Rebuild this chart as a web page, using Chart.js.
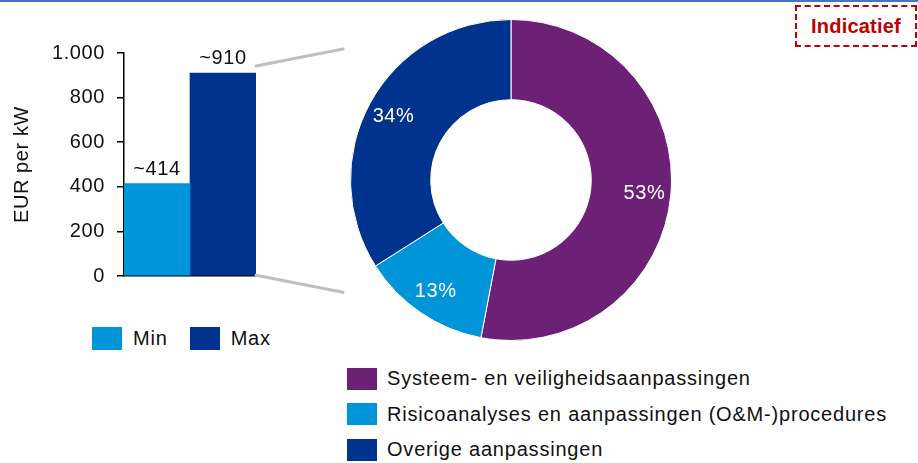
<!DOCTYPE html>
<html>
<head>
<meta charset="utf-8">
<script src="https://cdn.jsdelivr.net/npm/chart.js@4.4.1/dist/chart.umd.min.js"></script>
<style>
    body { margin: 0; width: 918px; height: 463px; position: relative; overflow: hidden; background: #fff;
           font-family: "Liberation Sans", Arial, sans-serif; color: #111; }
    #topLine { position: absolute; left: 0; top: 0; width: 918px; height: 2px; background: #4472C4; }
    #barChart { position: absolute; left: 0; top: 0; }
    #pieChart { position: absolute; left: 346px; top: 15px; }
    .legend { position: absolute; font-size: 20px; letter-spacing: 0.8px; }
    .legend .item { display: flex; align-items: center; }
    .legend .box { width: 30px; height: 23px; margin-right: 11px; flex: none; }
    #barLegend { left: 92px; top: 327px; display: flex; }
    #barLegend .item { margin-right: 22px; }
    #pieLegend { left: 347px; top: 367px; }
    #pieLegend .item { height: 23px; margin-bottom: 12.5px; }
    #pieLegend .box { margin-right: 10px; height: 22px; }
    #stamp { position: absolute; left: 795px; top: 5px; width: 118px; height: 38px; border: 2.5px dashed #C00000;
             color: #C00000; font-weight: bold; font-size: 20px; letter-spacing: 0.2px; display: flex; align-items: center; justify-content: center; }
</style>
</head>
<body>
<div id="topLine"></div>
<canvas id="barChart" width="350" height="300"></canvas>
<canvas id="pieChart" width="330" height="330"></canvas>
<div id="barLegend" class="legend"></div>
<div id="pieLegend" class="legend"></div>
<div id="stamp">Indicatief</div>

<script>
// Gegevens
const barSeries = ['Min', 'Max'];
const barValues = [414, 910];
const barColors = ['#0094D9', '#00338D'];
const yTicks = [0, 200, 400, 600, 800, 1000];

const pieLabels = ['Systeem- en veiligheidsaanpassingen', 'Risicoanalyses en aanpassingen (O&M-)procedures', 'Overige aanpassingen'];
const pieValues = [53, 13, 34];
const pieColors = ['#6C2177', '#0094D9', '#00338D'];

const font = 'Liberation Sans, Arial, sans-serif';
const fmt = v => String(v).replace(/\B(?=(\d{3})+(?!\d))/g, '.');

// iets bredere letters, zoals in het origineel
const spacing = {
    id: 'spacing',
    beforeDraw(chart) { chart.ctx.letterSpacing = '0.6px'; }
};

// Labels boven de staven + verbindingslijnen naar de donut
const barLabels = {
    id: 'barLabels',
    afterDatasetsDraw(chart) {
        const ctx = chart.ctx;
        ctx.save();
        ctx.font = '20px ' + font;
        ctx.fillStyle = '#111';
        ctx.textAlign = 'center';
        ctx.textBaseline = 'alphabetic';
        chart.data.datasets.forEach((ds, i) => {
            chart.getDatasetMeta(i).data.forEach((bar, j) => {
                ctx.fillText('~' + ds.data[j], bar.x, bar.y - 9);
            });
        });
        const last = chart.getDatasetMeta(chart.data.datasets.length - 1).data[0];
        const x0 = last.x + last.width / 2;
        ctx.strokeStyle = '#BFBFBF';
        ctx.lineWidth = 3;
        ctx.lineCap = 'round';
        ctx.beginPath();
        ctx.moveTo(x0, last.y - 7);
        ctx.lineTo(x0 + 87, last.y - 24);
        ctx.moveTo(x0, last.base);
        ctx.lineTo(x0 + 87, last.base + 17);
        ctx.stroke();
        ctx.restore();
    }
};

const barChart = new Chart(document.getElementById('barChart'), {
    type: 'bar',
    data: {
        labels: [''],
        datasets: barSeries.map((s, i) => ({
            label: s,
            data: [barValues[i]],
            backgroundColor: barColors[i],
            categoryPercentage: 1,
            barPercentage: 1
        }))
    },
    options: {
        responsive: false,
        animation: false,
        layout: { padding: { top: 53, bottom: 24, left: 0, right: 94 } },
        plugins: { legend: { display: false }, tooltip: { enabled: false } },
        scales: {
            x: {
                grid: { display: false },
                ticks: { display: false },
                border: { color: '#000', width: 1.5 },
                afterFit: s => { s.height = 0; }
            },
            y: {
                min: 0,
                max: 1000,
                afterBuildTicks: s => { s.ticks = yTicks.map(v => ({ value: v })); },
                afterFit: s => { s.width = 124; },
                ticks: { padding: 12, color: '#111', font: { size: 20, family: font }, callback: v => fmt(v) },
                grid: { drawOnChartArea: false, tickLength: 7, color: '#000', lineWidth: 1.5 },
                border: { color: '#000', width: 1.5 },
                title: { display: true, text: 'EUR per kW', color: '#111', font: { size: 20, family: font }, padding: { top: 10, bottom: 0 } }
            }
        }
    },
    plugins: [spacing, barLabels]
});

// Percentages in de donut
const pctLabels = {
    id: 'pctLabels',
    afterDatasetsDraw(chart) {
        const ctx = chart.ctx;
        ctx.save();
        ctx.font = '20px ' + font;
        ctx.fillStyle = '#fff';
        ctx.textAlign = 'center';
        ctx.textBaseline = 'middle';
        chart.getDatasetMeta(0).data.forEach((arc, i) => {
            const a = (arc.startAngle + arc.endAngle) / 2;
            const r = arc.innerRadius + (arc.outerRadius - arc.innerRadius) * 0.67;
            ctx.fillText(chart.data.datasets[0].data[i] + '%', arc.x + Math.cos(a) * r, arc.y + Math.sin(a) * r + 1);
        });
        ctx.restore();
    }
};

const pieChart = new Chart(document.getElementById('pieChart'), {
    type: 'doughnut',
    data: {
        labels: pieLabels,
        datasets: [{ data: pieValues, backgroundColor: pieColors, borderColor: '#fff', borderWidth: 1 }]
    },
    options: {
        responsive: false,
        animation: false,
        cutout: '50%',
        layout: { padding: 4 },
        plugins: { legend: { display: false }, tooltip: { enabled: false } }
    },
    plugins: [spacing, pctLabels]
});

// Legenda's
function buildLegend(el, labels, colors) {
    labels.forEach((l, i) => {
        const item = document.createElement('div');
        item.className = 'item';
        const box = document.createElement('span');
        box.className = 'box';
        box.style.background = colors[i];
        const txt = document.createElement('span');
        txt.textContent = l;
        item.appendChild(box);
        item.appendChild(txt);
        el.appendChild(item);
    });
}
buildLegend(document.getElementById('barLegend'), barSeries, barColors);
buildLegend(document.getElementById('pieLegend'), pieLabels, pieColors);
</script>
</body>
</html>
